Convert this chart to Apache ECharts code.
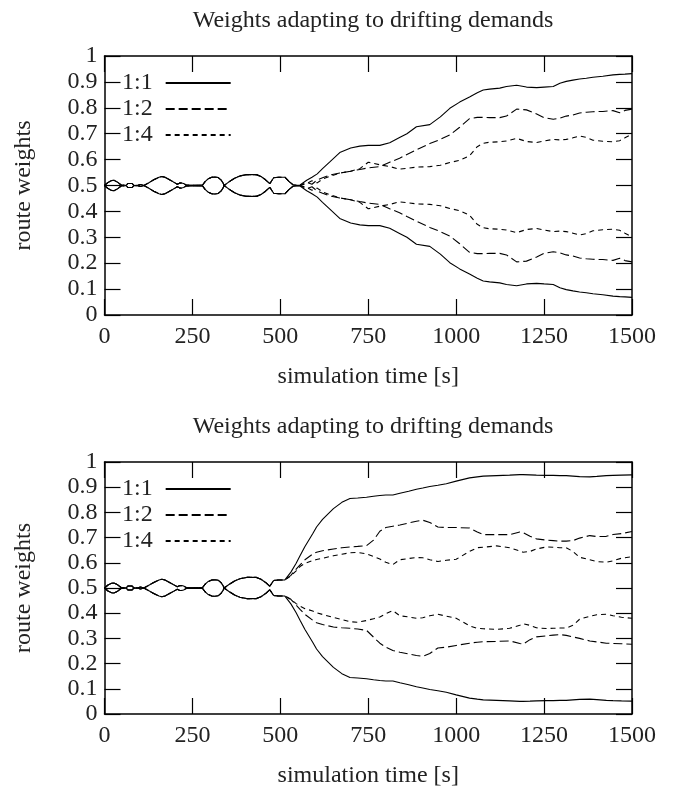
<!DOCTYPE html>
<html>
<head>
<meta charset="utf-8">
<script src="https://cdn.jsdelivr.net/npm/echarts@6/dist/echarts.min.js"></script>
<style>
html,body{margin:0;padding:0;background:#fff;}
#c{width:673px;height:789px;}
</style>
</head>
<body>
<div id="c"></div>
<script>
const TITLE = 'Weights adapting to drifting demands';
const X_NAME = 'simulation time [s]';
const Y_NAME = 'route weights';
const NAMES = ['1:1', '1:2', '1:4'];

// shared oscillating start (all three ratios coincide)
const tEarly = [0,10,20,27,37,49,55,61,67,72,78,84,95,103,108,112,125,140,155,163,172,185,198,207,213,219,225,232,250,279,286,295,305,314,323,331,337,340,355,370,385,404,432,445,458,470,481,495,513];
const upEarly = [0.500,0.512,0.519,0.520,0.513,0.500,0.502,0.500,0.508,0.511,0.508,0.500,0.501,0.504,0.501,0.500,0.510,0.522,0.532,0.535,0.532,0.522,0.512,0.505,0.509,0.510,0.508,0.502,0.501,0.502,0.515,0.526,0.532,0.533,0.531,0.522,0.510,0.500,0.515,0.528,0.537,0.542,0.542,0.535,0.522,0.507,0.530,0.532,0.532];
const loEarly = [0.500,0.488,0.481,0.480,0.487,0.500,0.498,0.500,0.492,0.489,0.492,0.500,0.499,0.496,0.499,0.500,0.490,0.478,0.468,0.465,0.468,0.478,0.488,0.495,0.491,0.490,0.492,0.498,0.499,0.498,0.485,0.474,0.468,0.467,0.469,0.478,0.490,0.500,0.485,0.472,0.463,0.458,0.458,0.465,0.478,0.493,0.470,0.468,0.468];

// top panel, after the start
const tTop = [525,536,546,556,575,590,605,620,640,669,700,726,750,783,811,839,860,887,925,955,982,1010,1038,1060,1077,1095,1124,1143,1172,1200,1229,1250,1276,1295,1313,1332,1351,1370,1389,1417,1446,1465,1480,1500];
const top11Up = [0.515,0.503,0.501,0.502,0.52,0.532,0.545,0.565,0.59,0.627,0.645,0.652,0.655,0.655,0.665,0.685,0.70,0.727,0.735,0.765,0.798,0.822,0.842,0.858,0.869,0.872,0.876,0.882,0.887,0.880,0.878,0.880,0.882,0.895,0.902,0.907,0.911,0.914,0.918,0.922,0.927,0.929,0.930,0.932];
const top11Lo = [0.485,0.497,0.499,0.498,0.48,0.468,0.455,0.435,0.41,0.373,0.355,0.348,0.345,0.345,0.335,0.315,0.30,0.273,0.265,0.235,0.202,0.178,0.158,0.142,0.131,0.128,0.124,0.118,0.113,0.120,0.122,0.120,0.118,0.105,0.098,0.093,0.089,0.086,0.082,0.078,0.073,0.071,0.070,0.068];
const top12Up = [0.515,0.503,0.501,0.500,0.512,0.505,0.522,0.530,0.540,0.548,0.555,0.562,0.568,0.573,0.59,0.605,0.62,0.638,0.662,0.678,0.695,0.725,0.758,0.763,0.763,0.762,0.762,0.768,0.795,0.792,0.776,0.762,0.756,0.760,0.768,0.772,0.780,0.783,0.785,0.786,0.789,0.781,0.790,0.795];
const top12Lo = [0.485,0.497,0.499,0.500,0.488,0.495,0.478,0.470,0.460,0.452,0.445,0.438,0.432,0.427,0.41,0.395,0.38,0.362,0.338,0.322,0.305,0.275,0.242,0.237,0.237,0.238,0.238,0.232,0.205,0.208,0.224,0.238,0.244,0.240,0.232,0.228,0.220,0.217,0.215,0.214,0.211,0.219,0.210,0.205];
const top14Up = [0.515,0.503,0.501,0.500,0.508,0.518,0.510,0.525,0.535,0.548,0.555,0.565,0.590,0.580,0.573,0.563,0.566,0.571,0.573,0.578,0.589,0.597,0.615,0.650,0.663,0.667,0.669,0.672,0.682,0.670,0.666,0.672,0.678,0.676,0.678,0.684,0.691,0.686,0.675,0.671,0.669,0.673,0.684,0.698];
const top14Lo = [0.485,0.497,0.499,0.500,0.492,0.482,0.490,0.475,0.465,0.452,0.445,0.435,0.410,0.420,0.427,0.437,0.434,0.429,0.427,0.422,0.411,0.403,0.385,0.350,0.337,0.333,0.331,0.328,0.318,0.330,0.334,0.328,0.322,0.324,0.322,0.316,0.309,0.314,0.325,0.329,0.331,0.327,0.316,0.302];

// bottom panel, after the start
const tBot = [517,530,545,556,570,592,603,620,651,675,698,720,745,765,783,800,820,840,865,887,905,925,948,972,1000,1038,1060,1077,1115,1152,1181,1190,1210,1228,1257,1276,1295,1313,1332,1351,1380,1400,1427,1446,1470,1500];
const bot11Up = [0.529,0.563,0.598,0.628,0.665,0.715,0.742,0.772,0.815,0.840,0.855,0.857,0.860,0.864,0.867,0.869,0.869,0.876,0.884,0.892,0.897,0.903,0.908,0.914,0.924,0.937,0.941,0.944,0.946,0.948,0.950,0.950,0.949,0.948,0.947,0.947,0.946,0.946,0.944,0.942,0.941,0.943,0.946,0.947,0.948,0.949];
const bot11Lo = [0.471,0.437,0.402,0.372,0.335,0.285,0.258,0.228,0.185,0.160,0.145,0.143,0.140,0.136,0.133,0.131,0.131,0.124,0.116,0.108,0.103,0.097,0.092,0.086,0.076,0.063,0.059,0.056,0.054,0.052,0.050,0.050,0.051,0.052,0.053,0.053,0.054,0.054,0.056,0.058,0.059,0.057,0.054,0.053,0.052,0.051];
const bot12Up = [0.529,0.55,0.575,0.592,0.612,0.635,0.642,0.648,0.655,0.660,0.663,0.665,0.668,0.69,0.725,0.74,0.745,0.750,0.758,0.765,0.769,0.76,0.742,0.740,0.740,0.738,0.722,0.712,0.712,0.712,0.722,0.72,0.705,0.695,0.690,0.688,0.686,0.686,0.688,0.698,0.708,0.704,0.705,0.712,0.716,0.724];
const bot12Lo = [0.471,0.455,0.432,0.415,0.395,0.372,0.362,0.355,0.345,0.342,0.340,0.337,0.332,0.305,0.281,0.265,0.252,0.245,0.238,0.232,0.229,0.24,0.262,0.265,0.272,0.281,0.285,0.287,0.288,0.290,0.280,0.277,0.295,0.306,0.310,0.313,0.315,0.312,0.306,0.300,0.290,0.286,0.281,0.280,0.279,0.277];
const bot14Up = [0.529,0.548,0.568,0.585,0.598,0.609,0.613,0.618,0.628,0.634,0.640,0.641,0.636,0.625,0.615,0.602,0.593,0.612,0.617,0.621,0.620,0.612,0.605,0.610,0.614,0.645,0.660,0.662,0.667,0.660,0.647,0.642,0.645,0.655,0.663,0.662,0.660,0.660,0.645,0.622,0.612,0.605,0.602,0.608,0.618,0.624];
const bot14Lo = [0.471,0.455,0.438,0.428,0.418,0.409,0.402,0.395,0.383,0.375,0.366,0.364,0.371,0.378,0.385,0.398,0.410,0.390,0.385,0.380,0.382,0.390,0.396,0.388,0.380,0.350,0.340,0.338,0.336,0.340,0.352,0.358,0.352,0.342,0.339,0.340,0.341,0.341,0.352,0.376,0.388,0.394,0.396,0.390,0.384,0.380];

const FONT = "'Liberation Serif','Times New Roman',serif";
const TXT = '#222';
const FS = 24;
const DASH = { '1:1': 'solid', '1:2': [9, 4], '1:4': [5, 4] };

function pairs(ts, vs) { return ts.map((t, i) => [t, vs[i]]); }
function build(tTail, vTail, early) { return pairs(tEarly, early).concat(pairs(tTail, vTail)); }

const panels = [
  { t: tTop, d: { '1:1': [top11Up, top11Lo], '1:2': [top12Up, top12Lo], '1:4': [top14Up, top14Lo] } },
  { t: tBot, d: { '1:1': [bot11Up, bot11Lo], '1:2': [bot12Up, bot12Lo], '1:4': [bot14Up, bot14Lo] } }
];

const gridTops = [56, 462];
const GH = 259;
const grids = [], xAxes = [], yAxes = [], series = [], titles = [], legends = [];

panels.forEach((p, gi) => {
  grids.push({ left: 104.5, top: gridTops[gi], width: 527.5, height: GH, show: false });
  const tick = { show: true, inside: true, length: 16, lineStyle: { color: '#000', width: 1.2 } };
  const line = { show: true, onZero: false, lineStyle: { color: '#000', width: 1.5 } };
  xAxes.push({
    gridIndex: gi, type: 'value', min: 0, max: 1500, interval: 250, position: 'bottom',
    axisLine: line, axisTick: tick, splitLine: { show: false },
    axisLabel: { color: TXT, fontFamily: FONT, fontSize: FS, margin: 10, formatter: v => String(v) },
    name: X_NAME, nameLocation: 'middle', nameGap: 50,
    nameTextStyle: { color: TXT, fontFamily: FONT, fontSize: FS }
  });
  xAxes.push({
    gridIndex: gi, type: 'value', min: 0, max: 1500, interval: 250, position: 'top',
    axisLine: line, axisTick: tick, splitLine: { show: false }, axisLabel: { show: false }
  });
  yAxes.push({
    gridIndex: gi, type: 'value', min: 0, max: 1, interval: 0.1, position: 'left',
    axisLine: line, axisTick: tick, splitLine: { show: false },
    axisLabel: { color: TXT, fontFamily: FONT, fontSize: FS, margin: 7 },
    name: Y_NAME, nameLocation: 'middle', nameGap: 69, nameRotate: 90,
    nameTextStyle: { color: TXT, fontFamily: FONT, fontSize: FS }
  });
  yAxes.push({
    gridIndex: gi, type: 'value', min: 0, max: 1, interval: 0.1, position: 'right',
    axisLine: line, axisTick: tick, splitLine: { show: false }, axisLabel: { show: false }
  });
  titles.push({
    text: TITLE, left: 368, top: gridTops[gi] - 52, textAlign: 'center',
    textStyle: { color: TXT, fontFamily: FONT, fontSize: FS, fontWeight: 'normal' }
  });
  legends.push({
    data: NAMES, orient: 'vertical', left: 117, top: gridTops[gi] + 10, align: 'right',
    itemWidth: 65, itemHeight: 14, itemGap: 2, selectedMode: false,
    itemStyle: { opacity: 0 },
    textStyle: { color: TXT, fontFamily: FONT, fontSize: FS, lineHeight: 24, padding: [0, 8, 0, 0] }
  });
  NAMES.slice().reverse().forEach(n => {
    const [u, l] = p.d[n];
    [u, l].forEach((vals, k) => {
      series.push({
        name: n, type: 'line', xAxisIndex: gi * 2, yAxisIndex: gi * 2,
        data: build(p.t, vals, k === 0 ? upEarly : loEarly),
        symbol: 'none', silent: true, animation: false,
        lineStyle: { color: '#000', width: 1.1, type: DASH[n] },
        itemStyle: { color: '#000' }
      });
    });
  });
});

const chart = echarts.init(document.getElementById('c'), null, { renderer: 'canvas' });
chart.setOption({
  backgroundColor: '#fff',
  animation: false,
  title: titles,
  legend: legends,
  grid: grids,
  xAxis: xAxes,
  yAxis: yAxes,
  series: series
});
</script>
</body>
</html>
